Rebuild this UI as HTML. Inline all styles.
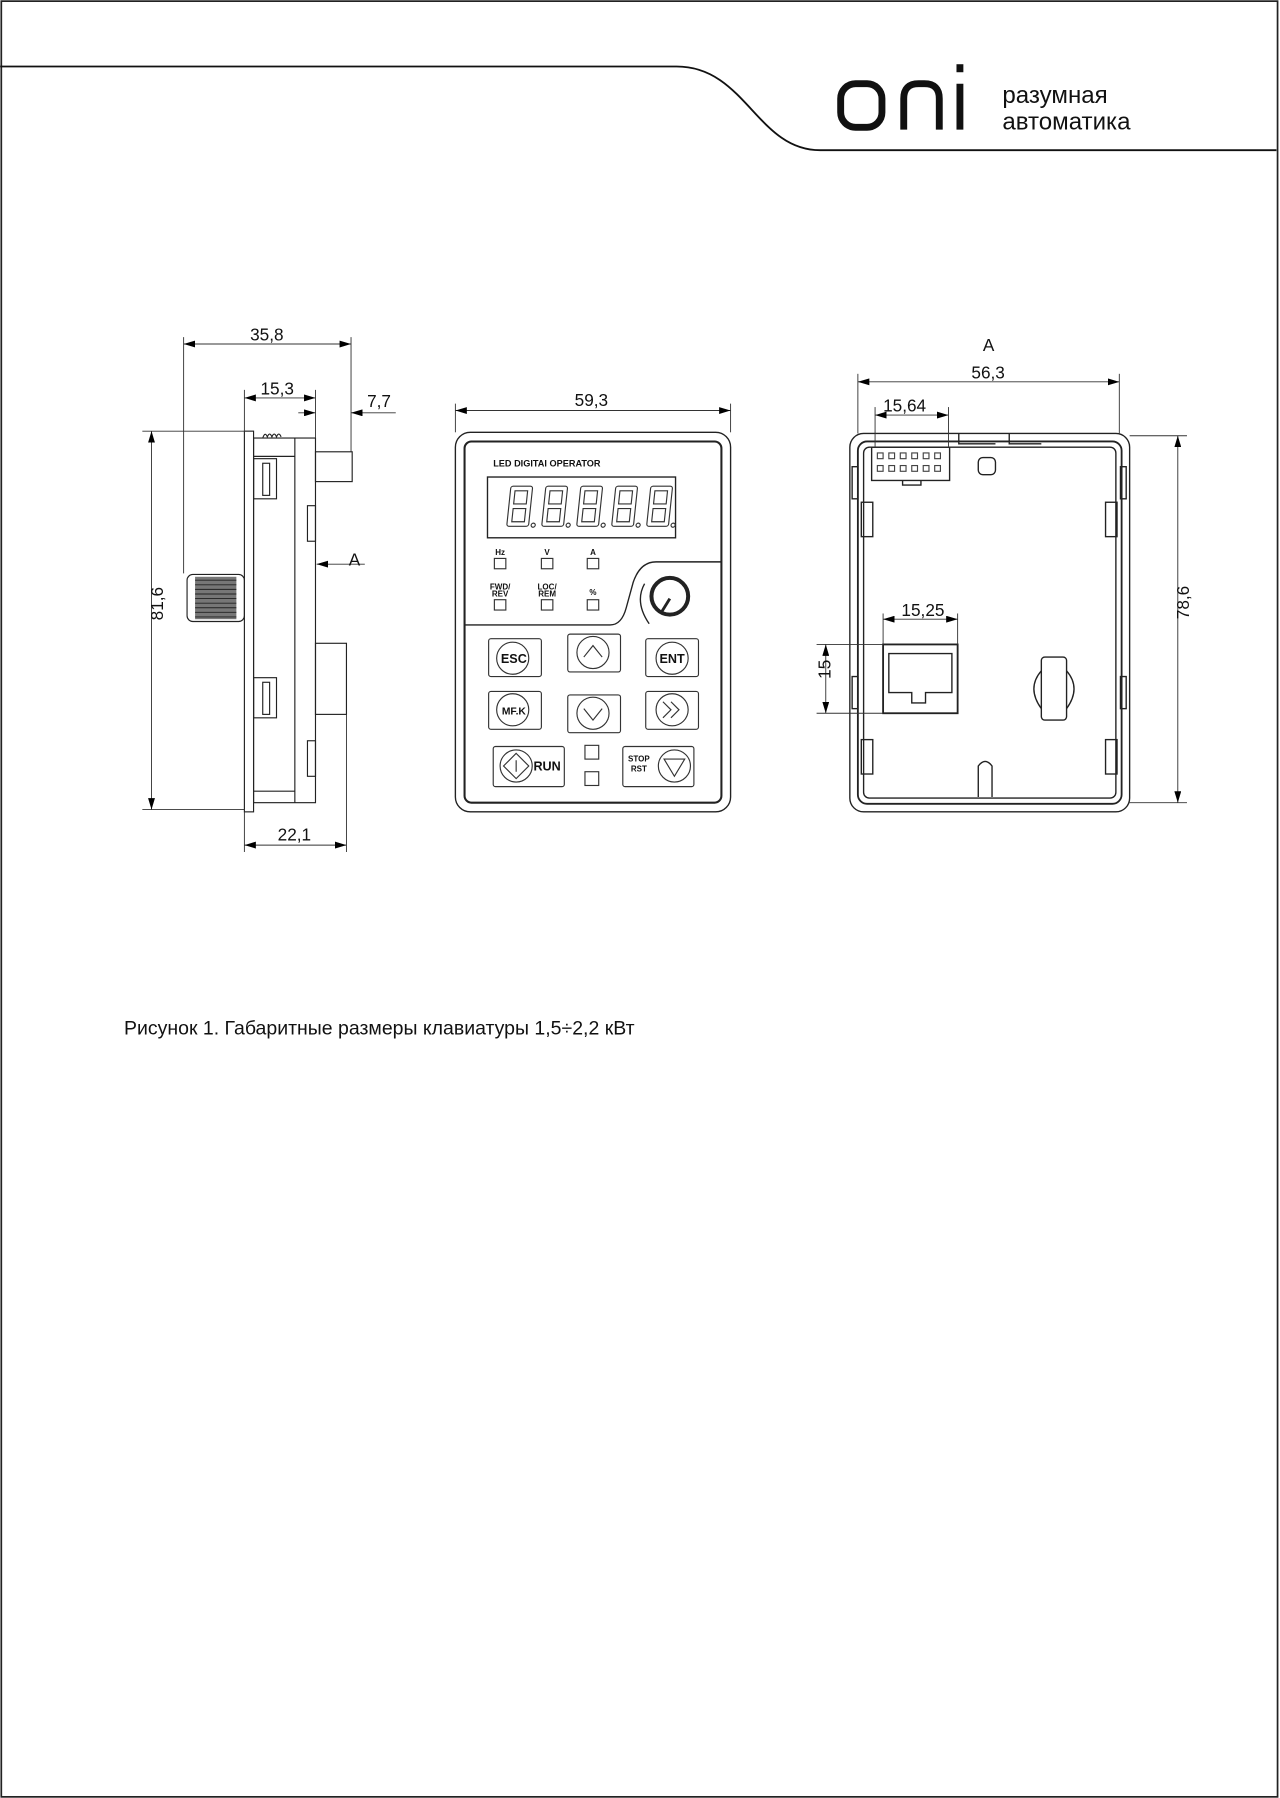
<!DOCTYPE html>
<html><head><meta charset="utf-8"><style>
html,body{margin:0;padding:0;background:#fff}
svg{display:block}
text{font-family:"Liberation Sans",sans-serif;fill:#111}
</style></head><body>
<svg width="1280" height="1798" viewBox="0 0 1116 1568" xmlns="http://www.w3.org/2000/svg">
<defs>
<marker id="ar" viewBox="0 0 10 6" refX="10" refY="3" markerWidth="10" markerHeight="6" orient="auto-start-reverse" markerUnits="userSpaceOnUse"><path d="M0,0 L10,3 L0,6 z" fill="#000"/></marker>
<g id="dg" fill="none" stroke="#333" stroke-width="1">
<rect x="0" y="0" width="19" height="35" rx="2"/>
<rect x="4" y="4" width="11" height="11.5"/>
<rect x="4" y="19.5" width="11" height="11.5"/>
<circle cx="23" cy="34" r="1.8"/>
</g>
</defs>
<rect x="1" y="1" width="1113" height="1566" fill="none" stroke="#222" stroke-width="1.5"/>
<!-- header -->
<path d="M0,58 L590,58 C650,58 660,131 715,131 L1113,131" fill="none" stroke="#111" stroke-width="1.6"/>
<g fill="none" stroke="#111" stroke-width="6">
<rect x="733" y="73" width="36" height="38" rx="13"/>
<path d="M788,113 V86 Q788,73 801,73 H806 Q819,73 819,86 V113"/>
<path d="M837,73 V113"/>
</g>
<rect x="834" y="56" width="6" height="7" fill="#111"/>
<text x="874" y="90" font-size="21">разумная</text>
<text x="874" y="113" font-size="21">автоматика</text>

<g fill="none" stroke="#222" stroke-width="1">
<!-- SIDE VIEW -->
<rect x="213" y="376" width="8" height="332"/>
<rect x="221" y="382" width="54" height="318"/>
<line x1="257" y1="382" x2="257" y2="700"/>
<line x1="221" y1="398" x2="257" y2="398"/>
<line x1="221" y1="690" x2="257" y2="690"/>
<path d="M229,382 q2,-6 4,-1 q2,-5 4,0 q2,-5 4,0 q2,-5 4,0"/>
<rect x="221" y="400" width="20" height="35"/><rect x="229" y="404" width="6" height="28"/>
<rect x="221" y="591" width="20" height="35"/><rect x="229" y="595" width="6" height="28"/>
<rect x="268" y="441" width="7" height="31"/><rect x="268" y="646" width="7" height="31"/>
<rect x="275" y="394" width="32" height="26"/>
<rect x="275" y="561" width="27" height="62"/>
<rect x="163" y="501" width="50" height="41" rx="5"/>
</g>
<rect x="170" y="503" width="36" height="37" fill="#777"/>
<g stroke="#222" stroke-width="0.8">
<line x1="170" y1="506" x2="206" y2="506"/><line x1="170" y1="510" x2="206" y2="510"/><line x1="170" y1="514" x2="206" y2="514"/><line x1="170" y1="518" x2="206" y2="518"/><line x1="170" y1="522" x2="206" y2="522"/><line x1="170" y1="526" x2="206" y2="526"/><line x1="170" y1="530" x2="206" y2="530"/><line x1="170" y1="534" x2="206" y2="534"/><line x1="170" y1="538" x2="206" y2="538"/>
</g>
<!-- side dims -->
<g stroke="#333" stroke-width="0.8" fill="none">
<line x1="160" y1="294" x2="160" y2="500"/><line x1="306" y1="294" x2="306" y2="394"/>
<line x1="160" y1="300" x2="306" y2="300" marker-start="url(#ar)" marker-end="url(#ar)"/>
<line x1="213" y1="340" x2="213" y2="376"/><line x1="275" y1="340" x2="275" y2="382"/>
<line x1="213" y1="347" x2="275" y2="347" marker-start="url(#ar)" marker-end="url(#ar)"/>
<line x1="260" y1="360" x2="275" y2="360" marker-end="url(#ar)"/>
<line x1="306" y1="360" x2="345" y2="360" marker-start="url(#ar)"/>
<line x1="124" y1="376" x2="213" y2="376"/><line x1="124" y1="706" x2="213" y2="706"/>
<line x1="132" y1="376" x2="132" y2="706" marker-start="url(#ar)" marker-end="url(#ar)"/>
<line x1="213" y1="708" x2="213" y2="743"/><line x1="302" y1="623" x2="302" y2="743"/>
<line x1="213" y1="737" x2="302" y2="737" marker-start="url(#ar)" marker-end="url(#ar)"/>
<line x1="276" y1="492" x2="318" y2="492" marker-start="url(#ar)"/>
</g>
<text x="218" y="297" font-size="15">35,8</text>
<text x="227" y="344" font-size="15">15,3</text>
<text x="320" y="355" font-size="15">7,7</text>
<text x="128" y="555" font-size="15" transform="rotate(-90 128 541)">81,6</text>
<text x="242" y="733" font-size="15">22,1</text>
<text x="304" y="493" font-size="15">A</text>

<!-- FRONT VIEW -->
<g fill="none" stroke="#222" stroke-width="1.2">
<rect x="397" y="377" width="240" height="331" rx="13"/>
<rect x="405" y="385" width="224" height="315" rx="6" stroke-width="1.8"/>
<rect x="425" y="416" width="164" height="53"/>
<path d="M405,545 H532 Q542,545 546,530 L552,508 Q558,490 572,490 H629"/>
<circle cx="584" cy="520" r="16" stroke-width="3.5"/>
<line x1="584" y1="522" x2="576" y2="535" stroke-width="2.5"/>
<path d="M562,509 Q553,525 566,544"/>
</g>
<text x="430" y="407" font-size="8" font-weight="bold" fill="#444">LED DIGITAI OPERATOR</text>
<g transform="skewX(-6)">
<use href="#dg" transform="translate(490,424)"/>
<use href="#dg" transform="translate(520.5,424)"/>
<use href="#dg" transform="translate(551,424)"/>
<use href="#dg" transform="translate(581.5,424)"/>
<use href="#dg" transform="translate(612,424)"/>
</g>
<g fill="none" stroke="#333" stroke-width="1">
<rect x="431" y="487" width="10" height="9"/><rect x="472" y="487" width="10" height="9"/><rect x="512" y="487" width="10" height="9"/>
<rect x="431" y="523" width="10" height="9"/><rect x="472" y="523" width="10" height="9"/><rect x="512" y="523" width="10" height="9"/>
</g>
<g font-size="7" fill="#555" font-weight="bold" text-anchor="middle">
<text x="436" y="484">Hz</text><text x="477" y="484">V</text><text x="517" y="484">A</text>
<text x="436" y="514">FWD/</text><text x="436" y="520">REV</text>
<text x="477" y="514">LOC/</text><text x="477" y="520">REM</text>
<text x="517" y="519">%</text>
</g>
<g fill="none" stroke="#333" stroke-width="1">
<rect x="426" y="557" width="46" height="33" rx="2"/><circle cx="447" cy="574" r="14"/>
<rect x="495" y="553" width="46" height="33" rx="2"/><circle cx="517" cy="569" r="14"/><path d="M509,573 L517,563 L525,573"/>
<rect x="563" y="557" width="46" height="33" rx="2"/><circle cx="586" cy="574" r="14"/>
<rect x="426" y="603" width="46" height="33" rx="2"/><circle cx="447" cy="619" r="14"/>
<rect x="495" y="606" width="46" height="33" rx="2"/><circle cx="517" cy="622" r="14"/><path d="M509,618 L517,628 L525,618"/>
<rect x="563" y="603" width="46" height="33" rx="2"/><circle cx="586" cy="619" r="14"/><path d="M578,612 L585,619 L578,626 M585,612 L592,619 L585,626"/>
<rect x="430" y="651" width="62" height="35" rx="2"/><circle cx="450" cy="668" r="14"/><path d="M450,657 L461,668 L450,679 L439,668 Z M450,663 V673"/>
<rect x="510" y="650" width="12" height="12"/><rect x="510" y="673" width="12" height="12"/>
<rect x="543" y="651" width="62" height="35" rx="2"/><circle cx="588" cy="668" r="14"/><path d="M579,662 H597 L588,677 Z"/>
</g>
<g font-size="11" font-weight="bold" fill="#444" text-anchor="middle">
<text x="448" y="578">ESC</text><text x="586" y="578">ENT</text><text x="448" y="623" font-size="9">MF.K</text><text x="477" y="672">RUN</text>
<text x="557" y="664" font-size="7">STOP</text><text x="557" y="673" font-size="7">RST</text>
</g>
<g stroke="#333" stroke-width="0.8" fill="none">
<line x1="397" y1="352" x2="397" y2="377"/><line x1="637" y1="352" x2="637" y2="377"/>
<line x1="397" y1="358" x2="637" y2="358" marker-start="url(#ar)" marker-end="url(#ar)"/>
</g>
<text x="501" y="354" font-size="15">59,3</text>

<!-- BACK VIEW -->
<g fill="none" stroke="#222" stroke-width="1.2">
<rect x="741" y="378" width="244" height="330" rx="12"/>
<rect x="748" y="385" width="230" height="316" rx="8" stroke-width="1.6"/>
<rect x="753" y="390" width="220" height="306" rx="5"/>
<rect x="760" y="390" width="68" height="29"/>
<path d="M787,419 v4 h16 v-4"/>
<rect x="853" y="399" width="15" height="15" rx="4"/>
<path d="M836,378 V387 H868 M880,378 V387 H908"/>
<rect x="770" y="562" width="65" height="60" stroke-width="1.6"/>
<path d="M775,570 H830 V604 H807 V613 H795 V604 H775 Z"/>
<rect x="908" y="573" width="22" height="55" rx="3"/>
<path d="M908,585 Q895,600 908,618 M930,585 Q943,600 930,618"/>
<path d="M853,695 V668 Q859,660 865,668 V695"/>
<rect x="751" y="438" width="10" height="30"/><rect x="964" y="438" width="10" height="30"/>
<rect x="751" y="645" width="10" height="30"/><rect x="964" y="645" width="10" height="30"/>
<rect x="743" y="407" width="5" height="28"/><rect x="977" y="407" width="5" height="28"/>
<rect x="743" y="590" width="5" height="28"/><rect x="977" y="590" width="5" height="28"/>
</g>
<g fill="none" stroke="#444" stroke-width="1">
<rect x="765" y="395" width="5" height="5"/><rect x="775" y="395" width="5" height="5"/><rect x="785" y="395" width="5" height="5"/><rect x="795" y="395" width="5" height="5"/><rect x="805" y="395" width="5" height="5"/><rect x="815" y="395" width="5" height="5"/>
<rect x="765" y="406" width="5" height="5"/><rect x="775" y="406" width="5" height="5"/><rect x="785" y="406" width="5" height="5"/><rect x="795" y="406" width="5" height="5"/><rect x="805" y="406" width="5" height="5"/><rect x="815" y="406" width="5" height="5"/>
</g>
<g stroke="#333" stroke-width="0.8" fill="none">
<line x1="748" y1="326" x2="748" y2="378"/><line x1="976" y1="326" x2="976" y2="378"/>
<line x1="748" y1="333" x2="976" y2="333" marker-start="url(#ar)" marker-end="url(#ar)"/>
<line x1="763" y1="355" x2="763" y2="390"/><line x1="827" y1="355" x2="827" y2="390"/>
<line x1="763" y1="362" x2="827" y2="362" marker-start="url(#ar)" marker-end="url(#ar)"/>
<line x1="985" y1="380" x2="1035" y2="380"/><line x1="985" y1="700" x2="1035" y2="700"/>
<line x1="1027" y1="380" x2="1027" y2="700" marker-start="url(#ar)" marker-end="url(#ar)"/>
<line x1="770" y1="535" x2="770" y2="562"/><line x1="835" y1="535" x2="835" y2="562"/>
<line x1="770" y1="540" x2="835" y2="540" marker-start="url(#ar)" marker-end="url(#ar)"/>
<line x1="712" y1="562" x2="770" y2="562"/><line x1="712" y1="622" x2="770" y2="622"/>
<line x1="720" y1="562" x2="720" y2="622" marker-start="url(#ar)" marker-end="url(#ar)"/>
</g>
<text x="857" y="306" font-size="15">A</text>
<text x="847" y="330" font-size="15">56,3</text>
<text x="770" y="359" font-size="15">15,64</text>
<text x="1023" y="554" font-size="15" transform="rotate(-90 1023 540)">78,6</text>
<text x="786" y="537" font-size="15">15,25</text>
<text x="716" y="600" font-size="15" transform="rotate(-90 716 592)">15</text>

<text x="108" y="902" font-size="17">Рисунок 1. Габаритные размеры клавиатуры 1,5÷2,2 кВт</text>
</svg>
</body></html>
